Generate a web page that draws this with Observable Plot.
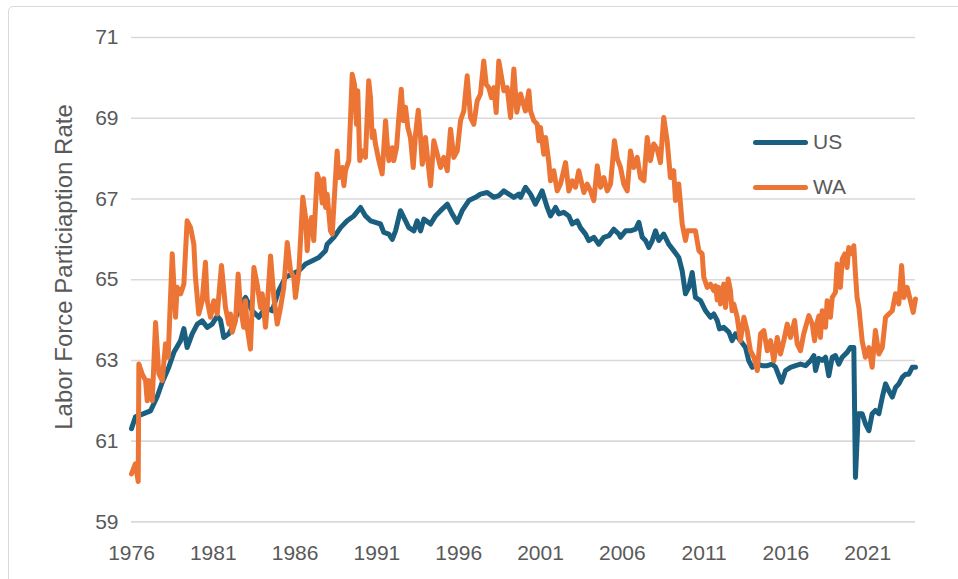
<!DOCTYPE html>
<html><head><meta charset="utf-8">
<script src="https://cdn.jsdelivr.net/npm/d3@7"></script>
<script src="https://cdn.jsdelivr.net/npm/@observablehq/plot@0.6"></script>
<style>
html,body{margin:0;padding:0;background:#fff;}
#wrap{position:relative;width:958px;height:579px;overflow:hidden;font-family:"Liberation Sans",Arial,sans-serif;color:#595959;}
#frame{position:absolute;left:8px;top:6px;width:1100px;height:1100px;border:1.5px solid #d9d9d9;border-radius:5px;box-sizing:border-box;}
#chart{position:absolute;left:0;top:0;}
#ytitle{position:absolute;left:64px;top:267px;transform:translate(-50%,-50%) rotate(-90deg);white-space:nowrap;font-size:24px;color:#595959;}
.leg{position:absolute;left:753px;display:flex;align-items:center;font-size:21px;color:#595959;}
.leg span.sw{display:inline-block;width:55px;height:5px;border-radius:3px;margin-right:5px;}
</style></head>
<body><div id="wrap"><div id="frame"></div><div id="chart"></div><div id="ytitle">Labor Force Particiaption Rate</div>
<div id="legend"></div></div>
<script>
const seriesNames = ["US", "WA"];
const seriesColors = ["#1a5f7f", "#ec7535"];
const xTicks = [1976, 1981, 1986, 1991, 1996, 2001, 2006, 2011, 2016, 2021];
const yTicks = [59, 61, 63, 65, 67, 69, 71];

const usYears = [1976.00,1976.24,1976.86,1977.16,1977.57,1977.88,1978.28,1978.59,1979.00,1979.20,1979.40,1979.71,1980.02,1980.32,1980.63,1980.93,1981.24,1981.44,1981.64,1981.95,1982.16,1982.66,1982.97,1983.38,1983.78,1984.19,1984.60,1985.00,1985.41,1985.82,1986.23,1986.64,1987.05,1987.45,1987.86,1987.96,1988.37,1988.78,1989.18,1989.59,1990.00,1990.30,1990.61,1990.91,1991.22,1991.42,1991.73,1991.94,1992.14,1992.44,1992.75,1992.95,1993.26,1993.46,1993.67,1993.87,1994.28,1994.58,1994.89,1995.30,1995.60,1995.91,1996.21,1996.62,1997.03,1997.33,1997.74,1998.15,1998.45,1998.76,1999.06,1999.37,1999.67,1999.78,2000.08,2000.39,2000.69,2001.10,2001.41,2001.61,2001.92,2002.12,2002.42,2002.73,2002.94,2003.24,2003.44,2003.75,2003.95,2004.26,2004.56,2004.87,2005.18,2005.48,2005.79,2005.89,2006.20,2006.50,2006.81,2007.01,2007.22,2007.42,2007.62,2007.83,2008.03,2008.23,2008.53,2008.84,2009.14,2009.45,2009.66,2009.86,2010.07,2010.27,2010.47,2010.78,2011.09,2011.39,2011.59,2011.80,2011.94,2012.20,2012.51,2012.71,2012.92,2013.22,2013.53,2013.73,2013.94,2014.25,2014.55,2014.86,2015.16,2015.37,2015.57,2015.73,2015.98,2016.28,2016.59,2016.89,2017.20,2017.50,2017.71,2017.81,2018.01,2018.22,2018.42,2018.62,2018.83,2019.03,2019.23,2019.44,2019.74,2019.94,2020.15,2020.25,2020.42,2020.66,2020.86,2021.07,2021.27,2021.47,2021.68,2021.89,2022.09,2022.29,2022.50,2022.70,2022.90,2023.11,2023.31,2023.51,2023.72,2023.92];
const usValues = [61.31,61.60,61.70,61.75,62.10,62.46,62.83,63.20,63.49,63.79,63.32,63.66,63.90,63.98,63.82,63.90,64.10,64.00,63.57,63.66,63.82,64.40,64.56,64.23,64.07,64.31,64.23,64.73,65.06,65.14,65.22,65.39,65.47,65.55,65.72,65.88,66.05,66.29,66.46,66.58,66.79,66.58,66.46,66.42,66.38,66.17,66.13,66.00,66.21,66.71,66.46,66.29,66.21,66.46,66.21,66.50,66.38,66.58,66.71,66.87,66.63,66.42,66.71,66.96,67.04,67.12,67.16,67.04,67.08,67.20,67.12,67.04,67.12,67.04,67.29,67.12,66.87,67.20,66.79,66.58,66.79,66.63,66.67,66.58,66.38,66.46,66.29,66.13,65.97,66.05,65.88,66.05,66.09,66.25,66.13,66.05,66.21,66.21,66.25,66.42,66.05,65.97,65.80,65.97,66.21,65.97,66.13,65.88,65.72,65.55,65.22,64.65,64.81,65.18,64.56,64.48,64.23,64.07,64.15,63.99,63.78,63.82,63.70,63.49,63.66,63.49,63.32,62.99,62.83,62.91,62.87,62.87,62.91,62.83,62.62,62.46,62.75,62.83,62.87,62.91,62.87,62.99,63.12,62.75,63.05,63.00,63.08,62.62,63.08,63.12,62.91,63.08,63.20,63.32,63.32,60.10,61.68,61.68,61.43,61.26,61.68,61.76,61.68,62.09,62.42,62.25,62.09,62.33,62.42,62.58,62.66,62.66,62.83,62.83];

const waYears = [1976.00,1976.24,1976.41,1976.45,1976.65,1976.86,1976.96,1977.06,1977.27,1977.47,1977.67,1977.88,1978.08,1978.24,1978.49,1978.69,1978.79,1979.00,1979.20,1979.40,1979.61,1979.81,1979.91,1980.11,1980.32,1980.52,1980.63,1980.83,1981.03,1981.24,1981.50,1981.75,1981.95,1982.05,1982.16,1982.36,1982.52,1982.66,1982.86,1982.97,1983.07,1983.27,1983.48,1983.68,1983.89,1983.99,1984.19,1984.29,1984.50,1984.70,1984.91,1985.11,1985.31,1985.52,1985.72,1985.92,1986.02,1986.23,1986.47,1986.64,1986.74,1986.84,1987.00,1987.14,1987.35,1987.55,1987.66,1987.75,1987.86,1987.96,1988.16,1988.27,1988.47,1988.57,1988.67,1988.88,1988.98,1989.08,1989.28,1989.39,1989.49,1989.63,1989.75,1989.83,1989.95,1990.10,1990.30,1990.50,1990.61,1990.71,1990.81,1990.91,1991.12,1991.32,1991.53,1991.63,1991.73,1991.94,1992.03,1992.20,1992.34,1992.49,1992.61,1992.75,1992.89,1993.05,1993.22,1993.36,1993.53,1993.67,1993.77,1993.87,1993.97,1994.07,1994.28,1994.48,1994.69,1994.89,1995.09,1995.30,1995.50,1995.70,1995.91,1996.11,1996.31,1996.52,1996.72,1996.92,1997.13,1997.33,1997.53,1997.68,1997.84,1998.00,1998.15,1998.29,1998.45,1998.62,1998.76,1998.96,1999.17,1999.37,1999.55,1999.78,2000.08,2000.29,2000.39,2000.59,2000.80,2000.90,2001.00,2001.20,2001.31,2001.51,2001.61,2001.81,2002.02,2002.22,2002.53,2002.73,2002.94,2003.14,2003.34,2003.65,2003.85,2004.06,2004.26,2004.47,2004.67,2004.87,2005.08,2005.28,2005.52,2005.69,2005.89,2006.09,2006.30,2006.50,2006.70,2006.91,2007.11,2007.32,2007.52,2007.72,2007.92,2008.13,2008.33,2008.53,2008.74,2008.94,2009.14,2009.25,2009.45,2009.66,2009.86,2009.97,2010.17,2010.47,2010.68,2010.88,2010.98,2011.19,2011.39,2011.59,2011.70,2011.80,2011.90,2012.00,2012.20,2012.31,2012.47,2012.61,2012.71,2012.81,2013.02,2013.22,2013.43,2013.63,2013.83,2014.04,2014.25,2014.45,2014.65,2014.86,2015.06,2015.26,2015.47,2015.67,2015.87,2016.08,2016.28,2016.53,2016.69,2016.89,2017.09,2017.40,2017.61,2017.75,2017.88,2018.01,2018.11,2018.22,2018.42,2018.52,2018.72,2018.83,2019.03,2019.13,2019.33,2019.44,2019.60,2019.74,2019.84,2020.05,2020.15,2020.25,2020.35,2020.46,2020.66,2020.86,2021.07,2021.27,2021.47,2021.68,2021.89,2022.09,2022.29,2022.50,2022.70,2022.90,2023.07,2023.21,2023.41,2023.61,2023.78,2023.92];
const waValues = [60.19,60.44,60.00,62.91,62.67,62.50,62.00,62.50,62.00,63.94,62.67,62.50,63.41,63.08,65.64,64.07,64.81,64.65,64.89,66.46,66.29,65.88,65.06,64.15,64.48,65.43,64.48,64.07,64.48,64.15,65.35,64.30,63.90,64.15,63.70,63.99,65.14,64.31,63.82,64.48,63.82,63.28,65.30,64.89,64.31,64.65,63.82,64.31,65.59,64.56,63.90,64.31,64.81,65.92,65.22,65.06,64.56,65.22,67.04,66.54,65.72,66.29,66.54,65.97,67.62,67.37,66.90,67.50,66.79,67.12,66.21,66.13,67.53,68.19,67.53,67.78,67.33,67.70,67.95,69.02,70.09,69.84,68.85,69.68,67.95,68.19,68.03,69.93,69.51,68.52,68.69,68.36,67.95,67.62,68.94,68.36,67.95,68.27,67.95,68.27,69.02,69.72,68.94,69.27,68.77,68.52,67.78,68.60,69.20,68.52,67.86,68.11,68.52,68.11,67.33,68.44,68.11,67.78,68.03,67.70,68.73,68.03,68.19,68.94,69.18,70.05,69.02,68.85,69.43,69.60,70.42,69.84,69.76,69.51,69.76,69.14,70.42,70.01,69.68,69.76,69.02,70.22,69.15,69.60,69.18,69.68,69.18,68.94,68.85,68.44,68.77,68.11,68.52,67.90,67.45,67.70,67.20,67.37,67.90,67.20,67.45,67.29,67.70,67.16,67.37,67.20,66.96,67.82,67.29,67.53,67.20,67.37,68.44,68.00,67.78,67.37,67.20,68.19,67.78,68.03,67.53,67.45,68.52,67.95,68.36,68.24,67.90,69.02,68.44,67.53,67.70,66.96,67.37,66.38,65.97,66.21,66.21,66.21,65.72,65.64,65.06,64.81,64.89,64.73,64.85,64.50,64.81,64.40,64.89,64.31,65.02,64.73,64.23,64.40,64.07,63.49,64.07,63.74,63.24,63.08,62.75,63.66,63.74,63.24,63.49,62.99,63.57,63.16,63.49,63.90,63.57,63.99,63.41,63.24,63.66,64.11,63.90,63.49,63.90,64.10,63.57,64.23,63.82,64.48,64.07,64.56,64.69,65.39,64.81,65.51,65.64,65.30,65.80,65.64,65.84,65.14,64.56,64.31,63.49,63.08,63.32,62.83,63.74,63.16,63.32,64.07,64.15,64.23,64.65,64.40,65.35,64.56,64.81,64.48,64.19,64.52];

const us = usYears.map((t, i) => ({t, v: usValues[i]}));
const wa = waYears.map((t, i) => ({t, v: waValues[i]}));

const font = '"Liberation Sans", Arial, sans-serif';
const chart = Plot.plot({
  width: 958, height: 579,
  marginLeft: 131, marginRight: 43, marginTop: 37, marginBottom: 57.6,
  x: {domain: [1976, 2023.92]},
  y: {domain: [59, 71]},
  style: {fontFamily: font, fontSize: "21px", color: "#595959", background: "transparent", overflow: "visible"},
  marks: [
    Plot.gridY(yTicks, {stroke: "#d9d9d9", strokeOpacity: 1, strokeWidth: 1.6}),
    Plot.axisY(yTicks, {tickSize: 0, tickPadding: 13, label: null, tickFormat: d => String(d)}),
    Plot.axisX(xTicks, {tickSize: 0, tickPadding: 23, label: null, tickFormat: d => String(d)}),
    Plot.line(us, {x: "t", y: "v", stroke: seriesColors[0], strokeWidth: 5, strokeLinejoin: "round", strokeLinecap: "round"}),
    Plot.line(wa, {x: "t", y: "v", stroke: seriesColors[1], strokeWidth: 5, strokeLinejoin: "round", strokeLinecap: "round"})
  ]
});
document.getElementById("chart").appendChild(chart);

const legend = document.getElementById("legend");
const legTops = [142, 187];
seriesNames.forEach((name, i) => {
  const d = document.createElement("div");
  d.className = "leg";
  d.style.top = (legTops[i] - 13) + "px";
  d.style.height = "26px";
  d.innerHTML = `<span class="sw" style="background:${seriesColors[i]}"></span><span>${name}</span>`;
  legend.appendChild(d);
});
</script>
</body></html>
